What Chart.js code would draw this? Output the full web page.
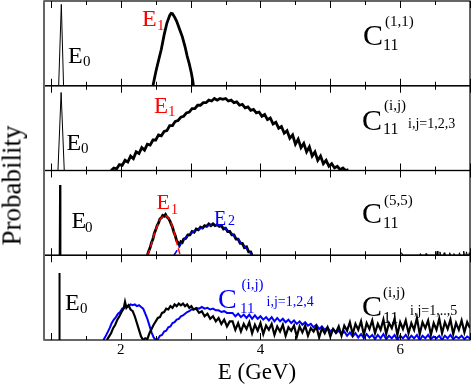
<!DOCTYPE html>
<html lang="en">
<head>
<meta charset="UTF-8">
<title>C11 energy distributions</title>
<script src="https://cdn.jsdelivr.net/npm/chart.js"></script>
<style>
  body { margin: 0; background: #fff; }
  #wrap { position: relative; width: 471px; height: 386px; }
  #wrap canvas { position: absolute; left: 0; top: 0; }
  .lbl { position: absolute; font-family: "Liberation Serif", "Times New Roman", serif; line-height: 1; white-space: nowrap; }
  #ylab { position: absolute; width: 160px; left: -68px; top: 172px; text-align: center;
          font-family: "Liberation Serif", serif; font-size: 27px; line-height: 1; transform: rotate(-90deg); }
</style>
</head>
<body>
<div id="wrap">
  <canvas id="chart"></canvas>
  <div id="ylab">Probability</div>
</div>
<script>
// ---- panel 1: C11(1,1)
const p1E0E = [1.11, 1.148, 1.18];
const p1E0P = [0, 0.96, 0];
const p1E1E = [2.46,2.48,2.50,2.52,2.55,2.58,2.62,2.66,2.70,2.72,2.74,2.77,2.80,2.84,2.88,2.92,2.95,2.98,3.01,3.03,3.04];
const p1E1P = [0,.08,.16,.23,.33,.43,.60,.74,.83,.855,.85,.81,.76,.67,.58,.46,.35,.26,.15,.06,0];

// ---- panel 2: C11(i,j), i,j=1,2,3
const p2E0E = [1.10, 1.145, 1.19];
const p2E0P = [0, 0.92, 0];
const p2E = [1.86,1.90,1.94,1.98,2.02,2.06,2.10,2.14,2.18,2.22,2.26,2.30,2.34,2.38,2.42,2.46,2.50,2.54,2.58,2.62,
  2.66,2.70,2.74,2.78,2.82,2.86,2.90,2.94,2.98,3.02,3.06,3.10,3.14,3.18,3.22,3.26,3.30,3.34,3.38,3.42,
  3.46,3.50,3.54,3.58,3.62,3.66,3.70,3.74,3.78,3.82,3.86,3.90,3.94,3.98,4.02,4.06,4.10,4.14,4.18,4.22,
  4.26,4.30,4.34,4.38,4.42,4.46,4.50,4.54,4.58,4.62,4.66,4.70,4.74,4.78,4.82,4.86,4.90,4.94,4.98,5.02,
  5.06,5.10,5.14,5.18,5.22,5.26];
const p2P = [0,.03,.02,.07,.06,.12,.10,.17,.14,.22,
  .20,.27,.24,.31,.30,.36,.36,.42,.41,.46,
  .47,.53,.53,.58,.59,.63,.64,.68,.69,.73,
  .73,.77,.77,.80,.80,.83,.82,.85,.83,.85,
  .84,.85,.82,.83,.80,.81,.77,.78,.74,.75,
  .71,.72,.68,.69,.64,.66,.60,.62,.55,.57,
  .50,.52,.44,.47,.38,.42,.31,.37,.27,.32,
  .22,.28,.17,.22,.12,.17,.08,.12,.05,.08,
  .03,.05,.01,.03,0,.01];

// ---- panel 3: C11(5,5) with E1 / E2 fits
const p3E0E = [1.125, 1.13, 1.135];
const p3E0P = [0, 0.83, 0];
const p3E = [2.38,2.40,2.42,2.44,2.46,2.48,2.50,2.52,2.54,2.56,2.58,2.60,2.62,2.64,2.66,2.68,2.70,2.72,2.74,2.76,
  2.78,2.80,2.82,2.84,2.86,2.88,2.90,2.93,2.96,2.99,3.02,3.05,3.08,3.11,3.14,3.17,3.20,3.23,3.26,3.29,
  3.32,3.35,3.38,3.41,3.44,3.47,3.50,3.53,3.56,3.59,3.62,3.65,3.68,3.71,3.74,3.77,3.80,3.83,3.86,3.88];
const p3P = [0,.05,.09,.15,.19,.26,.30,.35,.38,.43,.44,.47,.46,.48,.45,.44,.41,.37,.33,.27,
  .23,.17,.15,.12,.16,.15,.19,.20,.24,.24,.28,.27,.31,.30,.33,.32,.35,.34,.37,.35,
  .37,.35,.36,.34,.35,.31,.32,.28,.28,.24,.24,.19,.19,.14,.14,.09,.10,.04,.04,0];
const p3FitE1E = [2.38,2.42,2.45,2.49,2.53,2.56,2.60,2.63,2.66,2.70,2.73,2.76,2.80,2.83,2.85];
const p3FitE1P = [0,.08,.17,.28,.36,.42,.46,.47,.46,.42,.36,.28,.15,.06,0];
const p3FitE2E = [2.76,2.80,2.85,2.90,2.97,3.04,3.12,3.19,3.26,3.33,3.40,3.46,3.52,3.60,3.67,3.72,3.78,3.83,3.88];
const p3FitE2P = [0,.05,.12,.18,.24,.28,.31,.33,.35,.36,.355,.34,.30,.25,.20,.15,.10,.05,0];
const p3NoiseE = [6.00,6.02,6.04,6.28,6.29,6.30,6.36,6.37,6.38,6.52,6.53,6.54,6.56,6.57,6.58,6.62,6.63,6.64,
  6.70,6.71,6.72,6.76,6.77,6.78,6.84,6.85,6.86,6.90,6.91,6.92,6.94,6.95,6.96,6.98,6.99,7.00];
const p3NoiseP = [0,.03,0,0,.02,0,0,.02,0,0,.05,0,0,.04,0,0,.03,0,
  0,.03,0,0,.02,0,0,.03,0,0,.05,0,0,.04,0,0,.03,0];

// ---- panel 4: C11(i,j) i,j=1..5 (black) and i,j=1,2,4 (blue)
const p4E0E = [1.115, 1.12, 1.125];
const p4E0P = [0, 0.79, 0];
const p4TailE = [3.60,3.64,3.68,3.72,3.76,3.80,3.84,3.88,3.92,3.96,4.00,4.04,4.08,4.12,4.16,4.20,4.24,4.28,4.32,4.36,
  4.40,4.44,4.48,4.52,4.56,4.60,4.64,4.68,4.72,4.76,4.80,4.84,4.88,4.92,4.96,5.00,5.04,5.08,5.12,5.16,
  5.20,5.24,5.28,5.32,5.36,5.40,5.44,5.48,5.52,5.56,5.60,5.64,5.68,5.72,5.76,5.80,5.84,5.88,5.92,5.96,
  6.00,6.04,6.08,6.12,6.16,6.20,6.24,6.28,6.32,6.36,6.40,6.44,6.48,6.52,6.56,6.60,6.64,6.68,6.72,6.76,
  6.80,6.84,6.88,6.92,6.96,7.00];
const p4BlackE = [1.80,1.83,1.86,1.89,1.92,1.95,1.98,2.01,2.04,2.06,2.08,2.11,2.14,2.17,2.20,2.23,2.26,2.29,2.32,2.35,
  2.38,2.41,2.44,2.47,2.50,2.53,2.56,2.59,2.62,2.65,2.68,2.71,2.74,2.77,2.80,2.83,2.86,2.89,2.92,2.95,
  2.98,3.01,3.04,3.08,3.12,3.16,3.20,3.24,3.28,3.32,3.36,3.40,3.44,3.48,3.52,3.56];
const p4BlackP = [0,.04,.08,.14,.18,.24,.28,.33,.37,.45,.38,.41,.36,.34,.28,.20,.12,.04,0,.02,
  .01,.08,.13,.18,.22,.26,.27,.32,.33,.37,.36,.40,.38,.42,.40,.43,.41,.43,.40,.42,
  .38,.40,.36,.37,.32,.34,.28,.31,.25,.28,.22,.26,.19,.24,.16,.22];
const p4BlackTailP = [.22,.12,.20,.10,.19,.13,.21,.08,.18,.11,.20,.07,.17,.12,.19,.06,.16,.10,.18,.05,
  .15,.11,.17,.04,.16,.09,.17,.05,.14,.10,.16,.03,.14,.08,.15,.04,.13,.09,.16,.05,
  .17,.11,.21,.07,.19,.12,.22,.06,.20,.13,.23,.08,.19,.12,.24,.07,.20,.14,.25,.06,
  .21,.13,.23,.08,.20,.12,.26,.07,.21,.14,.23,.06,.20,.12,.25,.08,.21,.13,.24,.07,
  .20,.12,.23,.09,.21,.14];
const p4BlueE = [1.75,1.78,1.81,1.84,1.87,1.90,1.93,1.96,1.99,2.02,2.05,2.08,2.11,2.14,2.17,2.20,2.23,2.26,2.29,2.32,
  2.35,2.38,2.41,2.44,2.47,2.50,2.53,2.56,2.59,2.62,2.65,2.68,2.71,2.74,2.77,2.80,2.83,2.86,2.89,2.92,
  2.95,2.98,3.01,3.04,3.08,3.12,3.16,3.20,3.24,3.28,3.32,3.36,3.40,3.44,3.48,3.52,3.56];
const p4BlueP = [0,.04,.09,.14,.20,.24,.27,.31,.33,.37,.38,.40,.40,.42,.41,.42,.40,.41,.39,.37,
  .31,.25,.17,.09,.03,0,.01,.05,.06,.10,.11,.15,.16,.20,.21,.24,.25,.28,.29,.31,
  .33,.34,.36,.36,.38,.37,.39,.37,.38,.36,.37,.35,.35,.33,.34,.32,.32];
const p4BlueTailP = [.32,.28,.31,.27,.30,.26,.30,.25,.29,.25,.28,.24,.27,.23,.27,.22,.26,.22,.25,.21,
  .24,.20,.23,.19,.22,.18,.21,.17,.19,.15,.18,.13,.16,.12,.15,.10,.13,.08,.11,.07,
  .10,.05,.09,.04,.08,.03,.07,.02,.07,.03,.06,.01,.06,.02,.07,.01,.05,.02,.06,0,
  .05,.02,.06,.01,.05,.02,.06,0,.05,.02,.06,.01,.04,.02,.05,0,.05,.02,.06,.01,
  .04,.02,.05,.01,.04,.02];

const xLabels = [2, 4, 6];
const xMinorTicks = [1, 1.5, 2, 2.5, 3, 3.5, 4, 4.5, 5, 5.5, 6, 6.5, 7];

// text annotations: [text, left, baseline, size, colour]
const notes = [
  ['E', 68, 63, 24, '#000'], ['0', 83, 67, 15, '#000'],
  ['E', 142, 26, 24, 'red'], ['1', 157, 31, 15, 'red'],
  ['C', 363, 45, 30, '#000'], ['11', 383, 50, 16, '#000'], ['(1,1)', 385, 26.5, 15, '#000'],

  ['E', 66.5, 150.5, 24, '#000'], ['0', 81, 153.5, 15, '#000'],
  ['E', 154, 113.5, 23, 'red'], ['1', 168, 117, 15, 'red'],
  ['C', 362, 130, 30, '#000'], ['11', 383, 134, 16, '#000'], ['(i,j)', 384, 111, 15, '#000'],
  ['i,j=1,2,3', 408, 129, 14, '#000'],

  ['E', 71.5, 228.5, 24, '#000'], ['0', 85, 232.5, 15, '#000'],
  ['E', 156.5, 209.5, 22, 'red'], ['1', 171, 215, 14, 'red'],
  ['E', 214, 224.5, 20, 'blue'], ['2', 228, 225.5, 14, 'blue'],
  ['C', 362, 223, 30, '#000'], ['11', 383, 228.5, 16, '#000'], ['(5,5)', 384, 205.5, 15, '#000'],

  ['E', 65, 310, 24, '#000'], ['0', 80, 314, 15, '#000'],
  ['C', 218, 308.5, 28, 'blue'], ['11', 240, 313.5, 15, 'blue'], ['(i,j)', 241.5, 289.5, 15, 'blue'],
  ['i,j=1,2,4', 266.5, 306.5, 14, 'blue'],
  ['C', 362, 316.5, 30, '#000'], ['11', 383, 323, 16, '#000'], ['(i,j)', 383, 298, 15, '#000'],
  ['i,j=1,..,5', 410, 316, 14, '#000']
];

const wrap = document.getElementById('wrap');
notes.forEach(([t, left, base, size, color]) => {
  const d = document.createElement('div');
  d.className = 'lbl';
  d.textContent = t;
  d.style.left = left + 'px';
  d.style.top = (base - 0.8375 * size) + 'px';
  d.style.fontSize = size + 'px';
  d.style.color = color;
  wrap.appendChild(d);
});

const pts = (xs, ys) => xs.map((x, i) => ({x, y: ys[i]}));
const line = (data, yAxisID, color, width, extra) => Object.assign({
  data, yAxisID, borderColor: color, borderWidth: width,
  pointRadius: 0, tension: 0, fill: false
}, extra || {});

const panelFrames = {
  id: 'panelFrames',
  afterDatasetsDraw(chart) {
    const {ctx, chartArea: a, scales} = chart;
    ctx.save();
    ctx.strokeStyle = '#000';
    ['y1', 'y2', 'y3', 'y4'].forEach(id => {
      const s = scales[id];
      ctx.lineWidth = 1.2;
      ctx.strokeRect(a.left, s.top, a.right - a.left, s.bottom - s.top);
      ctx.lineWidth = 1;
      xMinorTicks.forEach(v => {
        const px = Math.round(scales.x.getPixelForValue(v)) + 0.5;
        const len = Number.isInteger(v) ? 7 : 4;
        ctx.beginPath();
        ctx.moveTo(px, s.bottom); ctx.lineTo(px, s.bottom - len);
        ctx.moveTo(px, s.top); ctx.lineTo(px, s.top + len);
        ctx.stroke();
      });
    });
    ctx.strokeStyle = '#666';
    ctx.lineWidth = 2;
    ctx.beginPath();
    ctx.moveTo(a.left, a.top); ctx.lineTo(a.left, a.bottom);
    ctx.stroke();
    ctx.restore();
  }
};

const yPanel = weight => ({
  type: 'linear', position: 'left', stack: 'panels', stackWeight: 1, weight,
  min: 0, max: 1,
  grid: {display: false, drawTicks: false}, border: {display: false}, ticks: {display: false}
});

new Chart(document.getElementById('chart'), {
  type: 'line',
  data: {
    datasets: [
      line(pts(p1E0E, p1E0P), 'y1', '#000', 1),
      line(pts(p1E1E, p1E1P), 'y1', '#000', 2.8),

      line(pts(p2E0E, p2E0P), 'y2', '#000', 1),
      line(pts(p2E, p2P), 'y2', '#000', 2.8),

      line(pts(p3E0E, p3E0P), 'y3', '#000', 2),
      line(pts(p3FitE1E, p3FitE1P), 'y3', 'red', 1.5, {borderDash: [6, 3], order: 0}),
      line(pts(p3FitE2E, p3FitE2P), 'y3', 'blue', 1.5, {borderDash: [6, 3], order: 0}),
      line(pts(p3E, p3P), 'y3', '#000', 2.8, {order: 1}),
      line(pts(p3NoiseE, p3NoiseP), 'y3', '#000', 1),

      line(pts(p4E0E, p4E0P), 'y4', '#000', 2),
      line(pts(p4BlackE.concat(p4TailE), p4BlackP.concat(p4BlackTailP)), 'y4', '#000', 2.2, {order: 0}),
      line(pts(p4BlueE.concat(p4TailE), p4BlueP.concat(p4BlueTailP)), 'y4', 'blue', 2, {order: 1})
    ]
  },
  options: {
    responsive: true,
    maintainAspectRatio: false,
    animation: false,
    events: [],
    layout: {padding: {left: 44, top: 1, right: 1, bottom: 0}},
    plugins: {legend: {display: false}, tooltip: {enabled: false}},
    scales: {
      x: {
        type: 'linear', position: 'bottom', min: 0.9, max: 7.0,
        grid: {display: false, drawTicks: false}, border: {display: false},
        afterBuildTicks: s => { s.ticks = xLabels.map(value => ({value})); },
        ticks: {color: '#000', padding: 3, autoSkip: false, maxRotation: 0,
                font: {family: 'Liberation Serif', size: 15, lineHeight: 1}},
        title: {display: true, text: 'E (GeV)', color: '#000', padding: {top: 0, bottom: 2},
                font: {family: 'Liberation Serif', size: 23, lineHeight: 1}}
      },
      y1: yPanel(4),
      y2: yPanel(3),
      y3: yPanel(2),
      y4: yPanel(1)
    }
  },
  plugins: [panelFrames]
});
</script>
</body>
</html>
